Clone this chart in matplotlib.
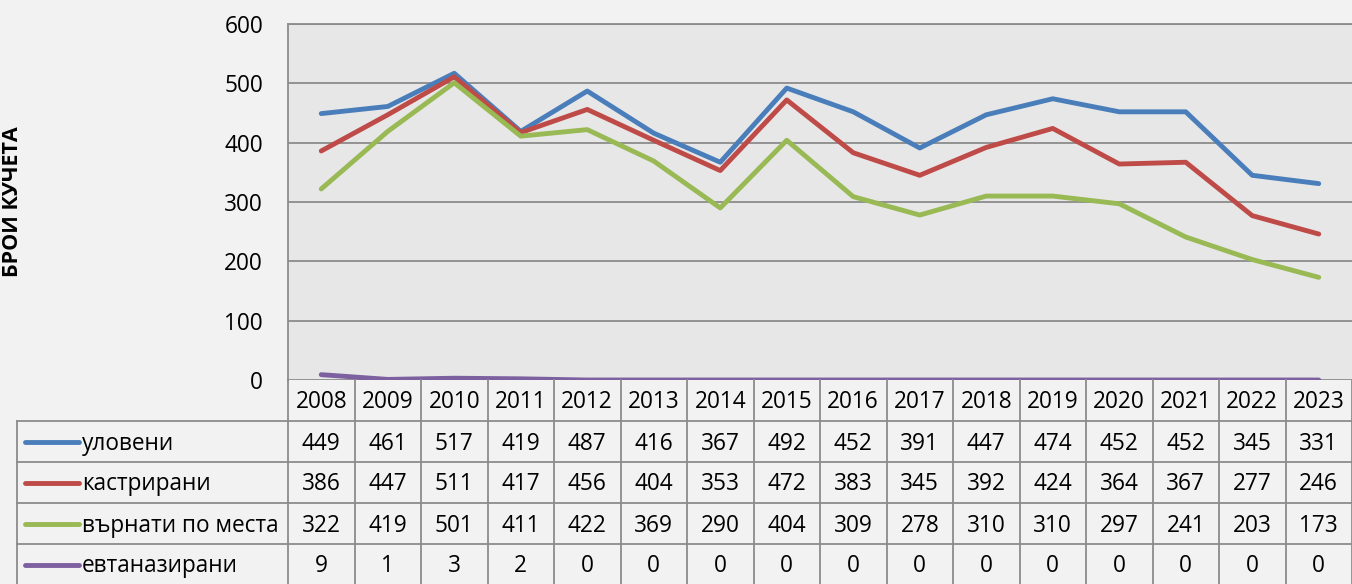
import numpy as np
import matplotlib.pyplot as plt

plt.rcParams.update({
    'font.family': ['Open Sans', 'DejaVu Sans'],
    'font.size': 16,
})

# данни
years = [2008, 2009, 2010, 2011, 2012, 2013, 2014, 2015,
         2016, 2017, 2018, 2019, 2020, 2021, 2022, 2023]
ulovi = [449, 461, 517, 419, 487, 416, 367, 492, 452, 391, 447, 474, 452, 452, 345, 331]
kastr = [386, 447, 511, 417, 456, 404, 353, 472, 383, 345, 392, 424, 364, 367, 277, 246]
varnati = [322, 419, 501, 411, 422, 369, 290, 404, 309, 278, 310, 310, 297, 241, 203, 173]
evtan = [9, 1, 3, 2, 0, 0, 0, 0, 0, 0, 0, 0, 0, 0, 0, 0]

series_names = ['уловени', 'кастрирани', 'върнати по места', 'евтаназирани']
series_vals = [ulovi, kastr, varnati, evtan]
colors = ['#4a7ebb', '#be4b48', '#98b954', '#7d60a0']
yticks = [0, 100, 200, 300, 400, 500, 600]

W, H = 1352, 584
x0, x1 = 288, 1352          # plot area left/right (px)
ytop, ybot = 24, 380        # 600 / 0 (px)
row_h = 41
legend_left = 17
line_col = '#8c8c8c'
fs = 16.3

fig = plt.figure(figsize=(W / 100, H / 100), dpi=100, facecolor='#f2f2f2')

ax = fig.add_axes([x0 / W, (H - ybot) / H, (x1 - x0) / W, (ybot - ytop) / H])
ax.set_facecolor('#e7e7e7')
xs = np.arange(len(years))
for vals, c, name in zip(series_vals, colors, series_names):
    ax.plot(xs, vals, color=c, lw=3.5, solid_capstyle='round', label=name, zorder=3)
ax.set_xlim(-0.5, len(years) - 0.5)
ax.set_ylim(0, 600)
ax.set_yticks(yticks)
ax.set_xticks([])
ax.yaxis.grid(True, color=line_col, lw=1.3)
ax.set_axisbelow(True)
ax.tick_params(axis='y', length=0, pad=18, labelsize=fs)
for s in ['right', 'bottom']:
    ax.spines[s].set_visible(False)
for s in ['left', 'top']:
    ax.spines[s].set_color(line_col)
    ax.spines[s].set_linewidth(1.3)
ax.set_ylabel('БРОЙ КУЧЕТА', fontsize=15.5, fontweight='bold', labelpad=0)
ax.yaxis.set_label_coords(-0.249, 0.5)

# таблица с данни (пикселни координати)
tab = fig.add_axes([0, 0, 1, 1], facecolor='none')
tab.set_xlim(0, W)
tab.set_ylim(H, 0)
tab.axis('off')

colw = (x1 - x0) / len(years)
n_rows = len(series_names)
y_head_bot = ybot + row_h
y_end = y_head_bot + n_rows * row_h

# вертикални линии
for i in range(len(years) + 1):
    xx = x0 + i * colw
    tab.plot([xx, xx], [ybot, y_end], color=line_col, lw=1.3)
tab.plot([legend_left, legend_left], [y_head_bot, y_end], color=line_col, lw=1.3)
# хоризонтални линии
for r in range(n_rows + 1):
    yy = y_head_bot + r * row_h
    tab.plot([legend_left, x1], [yy, yy], color=line_col, lw=1.3)

for i, yr in enumerate(years):
    cx = x0 + (i + 0.5) * colw
    tab.text(cx, ybot + row_h / 2 + 2, str(yr), ha='center', va='center', fontsize=fs)
    for r, vals in enumerate(series_vals):
        cy = y_head_bot + (r + 0.5) * row_h + 2
        tab.text(cx, cy, str(vals[i]), ha='center', va='center', fontsize=fs)

for r, (name, c) in enumerate(zip(series_names, colors)):
    cy = y_head_bot + (r + 0.5) * row_h
    tab.plot([25, 79], [cy, cy], color=c, lw=3.5, solid_capstyle='round')
    tab.text(82, cy + 2, name, ha='left', va='center', fontsize=fs)

fig.savefig('out.png', dpi=100, facecolor=fig.get_facecolor())
